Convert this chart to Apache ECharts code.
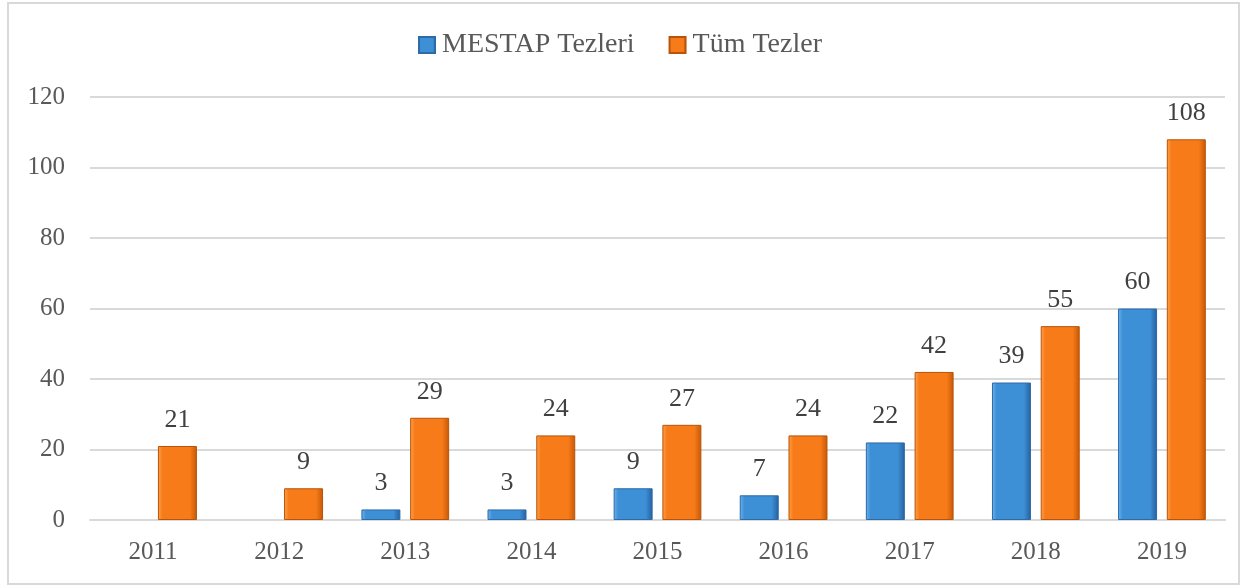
<!DOCTYPE html>
<html>
<head>
<meta charset="utf-8">
<script src="https://cdn.jsdelivr.net/npm/echarts@6/dist/echarts.min.js"></script>
<style>
html, body { margin: 0; padding: 0; background: #fff; }
#frame { position: absolute; left: 7px; top: 2px; width: 1229px; height: 579px; border: 2px solid #d9d9d9; }
#main { position: absolute; left: 0; top: 0; width: 1240px; height: 586px; }
</style>
</head>
<body>
<div id="frame"></div>
<div id="main"></div>
<script>
// yıllar
const years = ['2011', '2012', '2013', '2014', '2015', '2016', '2017', '2018', '2019'];
// MESTAP tezleri (2011, 2012 yok)
const mestapData = [null, null, 3, 3, 9, 7, 22, 39, 60];
// tüm tezler
const allData = [21, 9, 29, 24, 27, 24, 42, 55, 108];

const fontFamily = '"Liberation Serif", "DejaVu Serif", serif';

function bevel(light, main, dark) {
    return new echarts.graphic.LinearGradient(0, 0, 1, 0, [
        { offset: 0, color: light },
        { offset: 0.12, color: main },
        { offset: 0.82, color: main },
        { offset: 1, color: dark }
    ]);
}

const myChart = echarts.init(document.getElementById('main'));
let option = {
    animation: false,
    textStyle: { fontFamily: fontFamily },
    legend: {
        top: 26,
        left: 'center',
        itemWidth: 16,
        itemHeight: 16,
        itemGap: 34,
        icon: 'rect',
        textStyle: { fontSize: 28, color: '#595959', fontFamily: fontFamily, padding: [0, 0, 0, 2] },
        data: ['MESTAP Tezleri', 'Tüm Tezler']
    },
    grid: {
        left: 90,
        right: 15,
        top: 97,
        bottom: 66
    },
    xAxis: {
        type: 'category',
        data: years,
        axisLine: { lineStyle: { color: '#d9d9d9', width: 2 } },
        axisTick: { show: false },
        axisLabel: { color: '#595959', fontSize: 25, margin: 20, fontFamily: fontFamily }
    },
    yAxis: {
        type: 'value',
        min: 0,
        max: 120,
        interval: 20,
        axisLine: { show: false },
        axisTick: { show: false },
        axisLabel: { color: '#595959', fontSize: 25, margin: 25, fontFamily: fontFamily },
        splitLine: { lineStyle: { color: '#d9d9d9', width: 2 } }
    },
    series: [{
        name: 'MESTAP Tezleri',
        type: 'bar',
        data: mestapData,
        barWidth: 39,
        barGap: '25%',
        itemStyle: {
            color: bevel('#6cb4ee', '#3d8fd6', '#24609e'),
            borderColor: '#2d6aa8',
            borderWidth: 1
        },
        label: {
            show: true,
            position: 'top',
            distance: 13,
            color: '#404040',
            fontSize: 26,
            fontFamily: fontFamily
        }
    }, {
        name: 'Tüm Tezler',
        type: 'bar',
        data: allData,
        barWidth: 39,
        itemStyle: {
            color: bevel('#ffa24d', '#f77b18', '#c55806'),
            borderColor: '#b85409',
            borderWidth: 1
        },
        label: {
            show: true,
            position: 'top',
            distance: 13,
            color: '#404040',
            fontSize: 26,
            fontFamily: fontFamily
        }
    }]
};
myChart.setOption(option);
</script>
</body>
</html>
